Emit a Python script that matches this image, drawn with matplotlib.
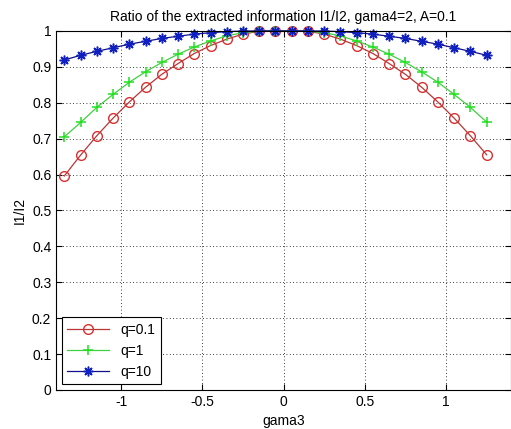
import matplotlib
matplotlib.use('Agg')
import matplotlib.pyplot as plt

plt.rcParams['font.family'] = ['Liberation Sans', 'DejaVu Sans']
plt.rcParams['font.size'] = 10

gama3 = [-1.35, -1.25, -1.15, -1.05, -0.95, -0.85, -0.75, -0.65, -0.55, -0.45,
         -0.35, -0.25, -0.15, -0.05, 0.05, 0.15, 0.25, 0.35, 0.45, 0.55,
         0.65, 0.75, 0.85, 0.95, 1.05, 1.15, 1.25]

ratio_q01 = [0.596, 0.654, 0.708, 0.757, 0.802, 0.843, 0.879, 0.909, 0.937, 0.959,
             0.977, 0.991, 0.999, 1.0, 1.0, 0.999, 0.991, 0.977, 0.959, 0.937,
             0.909, 0.879, 0.843, 0.802, 0.757, 0.708, 0.655]
ratio_q1 = [0.705, 0.745, 0.787, 0.823, 0.857, 0.886, 0.912, 0.935, 0.955, 0.972,
            0.986, 0.995, 0.999, 1.0, 1.0, 0.999, 0.995, 0.986, 0.972, 0.955,
            0.935, 0.912, 0.886, 0.857, 0.823, 0.787, 0.746]
ratio_q10 = [0.919, 0.932, 0.943, 0.953, 0.963, 0.971, 0.979, 0.985, 0.991, 0.995,
             0.998, 0.9995, 1.0, 1.0, 1.0, 1.0, 0.9995, 0.998, 0.995, 0.991,
             0.985, 0.979, 0.971, 0.963, 0.953, 0.943, 0.932]

fig = plt.figure(figsize=(5.11, 4.29), dpi=100)
ax = fig.add_axes([0.110, 0.091, 0.890, 0.837])

# MATLAB style markers: open circles, plus signs, asterisks
ax.plot(gama3, ratio_q01, color='#b83636', marker='o', markersize=7, markerfacecolor='none',
        markeredgecolor='#d83030', linewidth=0.9, label='q=0.1', clip_on=False)
ax.plot(gama3, ratio_q1, color='#40d040', marker='+', markersize=7, markeredgewidth=1.1,
        markeredgecolor='#20e020', linewidth=0.9, label='q=1', clip_on=False)
ax.plot(gama3, ratio_q10, color='#10108a', marker=(8, 2, 0), markersize=7,
        markeredgecolor='#1020c0', markeredgewidth=1.1, linewidth=0.9,
        label='q=10', clip_on=False)

ax.set_xlim(-1.4, 1.4)
ax.set_ylim(0, 1)
ax.set_xticks([-1, -0.5, 0, 0.5, 1])
ax.set_xticklabels(['-1', '-0.5', '0', '0.5', '1'])
ax.set_yticks([i / 10 for i in range(11)])
ax.set_yticklabels(['0', '0.1', '0.2', '0.3', '0.4', '0.5', '0.6', '0.7', '0.8', '0.9', '1'])
ax.tick_params(direction='in', top=True, right=True, length=4, labelsize=10)
ax.grid(True, linestyle=(0, (1, 3)), color='black', linewidth=0.6)

ax.set_title('Ratio of the extracted information I1/I2, gama4=2, A=0.1', fontsize=10, pad=7)
ax.set_xlabel('gama3', fontsize=10)
ax.set_ylabel('I1/I2', fontsize=10)

leg = ax.legend(loc='lower left', fancybox=False, edgecolor='black', framealpha=1,
                fontsize=10, handlelength=3, borderaxespad=0.4)
leg.get_frame().set_linewidth(0.8)

fig.savefig('out.png', dpi=100)
